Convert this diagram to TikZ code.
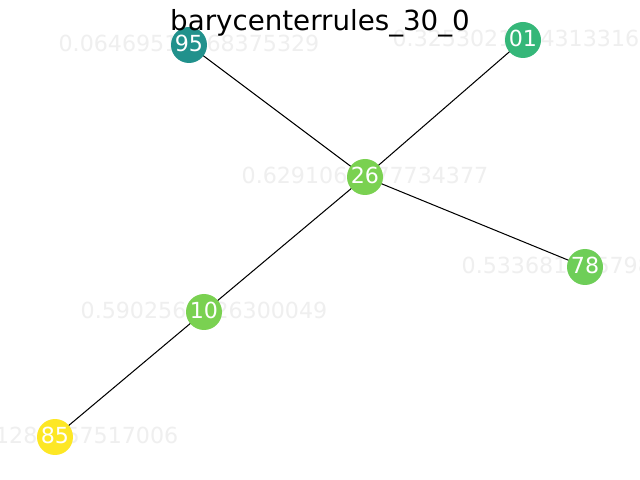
\documentclass[tikz,border=0pt]{standalone}
\usepackage{fontspec}
\setmainfont{DejaVu Sans}
\definecolor{cteal}{HTML}{21918C}
\definecolor{cgreen}{HTML}{35B779}
\definecolor{clime}{HTML}{7AD151}
\definecolor{clime2}{HTML}{6ECE58}
\definecolor{cyellow}{HTML}{FDE725}
\definecolor{glabel}{HTML}{EFEFEF}
\tikzset{
  vtx/.style={circle, minimum size=26, inner sep=0pt, draw=none},
  glab/.style={anchor=base, inner sep=0pt, text=glabel, font=\fontsize{16}{19}\selectfont},
  wlab/.style={anchor=base, inner sep=0pt, text=white, font=\fontsize{16}{19}\selectfont},
  edge/.style={draw=black, line width=0.75pt},
  ttl/.style={anchor=base, inner sep=0pt, font=\fontsize{20}{24}\selectfont}
}
\begin{document}
\begin{tikzpicture}[x=0.01in, y=-0.01in]
\useasboundingbox (0,0) rectangle (640,480);
\clip (0,0) rectangle (640,480);
\fill[white] (0,0) rectangle (640,480);
% node positions
\coordinate (p95) at (189,45);
\coordinate (p01) at (523,40);
\coordinate (p26) at (365,177);
\coordinate (p78) at (585,267);
\coordinate (p10) at (204,312);
\coordinate (p85) at (55,437);
% value labels (behind the nodes)
\node[glab] (l95) at ([yshift=-4.8pt]p95) {0.06469519568375329};
\node[glab] (l01) at ([yshift=-4.8pt]p01) {0.32530210143133166};
\node[glab] (l26) at ([yshift=-4.8pt]p26) {0.6291062677734377};
\node[glab] (l78) at ([yshift=-4.8pt]p78) {0.5336817857981234};
\node[glab] (l10) at ([yshift=-4.8pt]p10) {0.5902561026300049};
\node[glab] (l85) at ([yshift=-4.8pt]p85) {0.5461288557517006};
% edges
\draw[edge] (p95) -- (p26);
\draw[edge] (p01) -- (p26);
\draw[edge] (p26) -- (p78);
\draw[edge] (p26) -- (p10);
\draw[edge] (p10) -- (p85);
% nodes
\node[vtx, fill=cteal] (n95) at (p95) {};
\node[vtx, fill=cgreen] (n01) at (p01) {};
\node[vtx, fill=clime] (n26) at (p26) {};
\node[vtx, fill=clime2] (n78) at (p78) {};
\node[vtx, fill=clime] (n10) at (p10) {};
\node[vtx, fill=cyellow] (n85) at (p85) {};
% node names
\node[wlab] (w95) at ([yshift=-4.8pt]p95) {95};
\node[wlab] (w01) at ([yshift=-4.8pt]p01) {01};
\node[wlab] (w26) at ([yshift=-4.8pt]p26) {26};
\node[wlab] (w78) at ([yshift=-4.8pt]p78) {78};
\node[wlab] (w10) at ([yshift=-4.8pt]p10) {10};
\node[wlab] (w85) at ([yshift=-4.8pt]p85) {85};
% title
\node[ttl] (title) at (320,31) {barycenterrules\_30\_0};
\end{tikzpicture}
\end{document}
